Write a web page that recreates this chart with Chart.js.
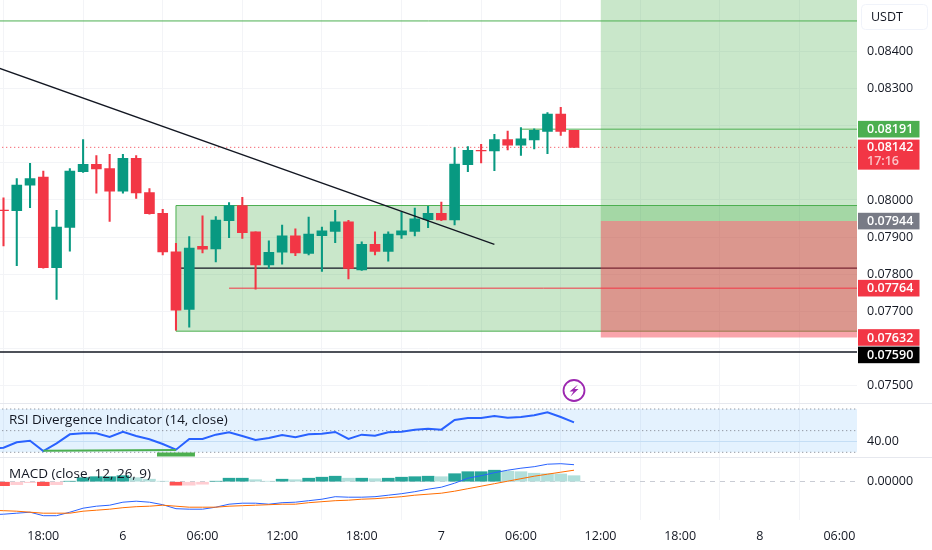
<!DOCTYPE html>
<html>
<head>
<meta charset="utf-8">
<style>
  html, body { margin: 0; padding: 0; background: #ffffff; }
  #chart { display: block; }
</style>
<script src="https://cdn.jsdelivr.net/npm/chart.js@4/dist/chart.umd.js"></script>
</head>
<body>
<canvas id="chart" width="932" height="550"></canvas>
<script>
// Hourly candles, first one is 15:00 on the 5th
const opens = [0.07973,0.07971,0.08040,0.08062,0.07817,0.07926,0.08076,0.08096,0.08085,0.08024,0.08112,0.08020,0.07964,0.07860,0.07705,0.07875,0.07868,0.07944,0.07985,0.07914,0.07825,0.07859,0.07903,0.07856,0.07904,0.07915,0.07941,0.07811,0.07880,0.07861,0.07906,0.07915,0.07947,0.07964,0.07946,0.08095,0.08134,0.08132,0.08163,0.08148,0.08162,0.08185,0.08232,0.08188];
const highs = [0.08006,0.08058,0.08099,0.08078,0.07972,0.08085,0.08163,0.08120,0.08123,0.08123,0.08120,0.08031,0.07975,0.07883,0.07901,0.07957,0.07955,0.07993,0.08007,0.07914,0.07890,0.07932,0.07922,0.07954,0.07927,0.07972,0.07945,0.07887,0.07914,0.07914,0.07968,0.07978,0.07983,0.07994,0.08141,0.08144,0.08150,0.08177,0.08186,0.08195,0.08192,0.08236,0.08250,0.08188];
const lows = [0.07876,0.07823,0.07979,0.07816,0.07732,0.07862,0.08074,0.08018,0.07942,0.08018,0.08004,0.07962,0.07852,0.07649,0.07657,0.07857,0.07833,0.07898,0.07896,0.07759,0.07815,0.07827,0.07850,0.07852,0.07807,0.07885,0.07787,0.07810,0.07852,0.07835,0.07896,0.07903,0.07925,0.07944,0.07933,0.08076,0.08100,0.08079,0.08135,0.08120,0.08138,0.08125,0.08174,0.08142];
const closes = [0.07971,0.08040,0.08058,0.07817,0.07927,0.08078,0.08096,0.08084,0.08024,0.08112,0.08019,0.07963,0.07860,0.07703,0.07870,0.07867,0.07946,0.07985,0.07912,0.07825,0.07859,0.07903,0.07857,0.07908,0.07917,0.07941,0.07815,0.07880,0.07861,0.07908,0.07917,0.07949,0.07964,0.07946,0.08097,0.08134,0.08132,0.08163,0.08148,0.08165,0.08188,0.08232,0.08185,0.08142];

// Indicators start one hour earlier, off the left edge
const rsiValues = [33.7,34.2,39.2,40.7,31.2,38.3,46.6,47.6,47.6,44.1,49.0,45.1,42.0,37.7,32.4,42.3,42.3,46.3,48.5,45.1,41.4,43.2,46.0,43.9,46.6,47.2,48.8,42.3,46.3,45.3,48.5,49.0,50.9,51.8,50.9,59.8,61.7,61.7,63.5,62.0,62.6,64.2,67.0,62.6,57.7];
const macdLine = [-0.00066,-0.00065,-0.00063,-0.00061,-0.00068,-0.00068,-0.00061,-0.00053,-0.00049,-0.00047,-0.00041,-0.00039,-0.00041,-0.00046,-0.00054,-0.00055,-0.00055,-0.00051,-0.00045,-0.00043,-0.00043,-0.00045,-0.00042,-0.00041,-0.00038,-0.00035,-0.00030,-0.00031,-0.00031,-0.00030,-0.00027,-0.00024,-0.00020,-0.00015,-0.00011,-0.00003,0.00007,0.00012,0.00018,0.00023,0.00027,0.00030,0.00035,0.00036,0.00034];
const signalLine = [-0.00057,-0.00058,-0.00059,-0.00061,-0.00063,-0.00063,-0.00063,-0.00059,-0.00057,-0.00055,-0.00052,-0.00050,-0.00049,-0.00047,-0.00049,-0.00051,-0.00051,-0.00051,-0.00049,-0.00048,-0.00047,-0.00046,-0.00045,-0.00045,-0.00042,-0.00040,-0.00038,-0.00037,-0.00035,-0.00034,-0.00032,-0.00030,-0.00027,-0.00025,-0.00023,-0.00019,-0.00014,-0.00009,-0.00004,0.00001,0.00006,0.00011,0.00015,0.00019,0.00023];
const macdHist = [-0.00008,-0.00006,-0.00002,-0.00008,-0.00006,0.00001,0.00008,0.00010,0.00010,0.00012,0.00008,0.00005,0.00001,-0.00007,-0.00007,-0.00005,0.00001,0.00007,0.00007,0.00004,0.00001,0.00005,0.00004,0.00007,0.00009,0.00011,0.00007,0.00007,0.00006,0.00007,0.00009,0.00010,0.00011,0.00010,0.00016,0.00020,0.00020,0.00023,0.00021,0.00020,0.00017,0.00016,0.000155,0.00012];

// Axis ticks
const xTickHours = [3,9,15,21,27,33,39,45,51,57,63];
const xTickLabels = ['18:00','6','06:00','12:00','18:00','7','06:00','12:00','18:00','8','06:00'];
const priceTicks = [0.075,0.076,0.077,0.078,0.079,0.080,0.081,0.082,0.083,0.084];
const hiddenPriceTicks = [0.076,0.081,0.082];

// Drawing levels
const topLevel = 0.08483;
const targetLevel = 0.08191;
const lastPrice = 0.08142;
const entryLevel = 0.07943;
const boxTop = 0.07985;
const boxBottom = 0.07646;
const boxMidLevel = 0.07816;
const redLevel = 0.07762;
const stopLevel = 0.07629;
const floorLevel = 0.07590;
const trendHours = [-1,37];
const trendPrices = [0.08364,0.07880];

// Price badges on the right axis
const badgePrices = [0.08191,0.07943,0.07762,0.07629,0.07582];
const badgeLabels = ['0.08191','0.07944','0.07764','0.07632','0.07590'];
const badgeColors = ['#4caf50','#787b86','#f23645','#f23645','#000000'];

const UP = '#089981';
const DOWN = '#f23645';
const FONT = '"Open Sans", sans-serif';
const X_MIN = -0.264;
const X_MAX = 64.33;

function levelLine(x0, x1, price, color, width, dash) {
    return {
        type: 'line',
        yAxisID: 'price',
        data: [{ x: x0, y: price }, { x: x1, y: price }],
        borderColor: color,
        borderWidth: width,
        borderDash: dash || [],
        pointRadius: 0,
        fill: false
    };
}

function zone(x0, x1, top, bottom, color, axis) {
    return {
        type: 'line',
        yAxisID: axis || 'price',
        data: [{ x: x0, y: top }, { x: x1, y: top }],
        backgroundColor: color,
        borderWidth: 0,
        pointRadius: 0,
        fill: { value: bottom }
    };
}

function seriesLine(values, axis, color, width) {
    return {
        type: 'line',
        yAxisID: axis,
        data: values.map(function (v, i) { return { x: i - 1, y: v }; }),
        borderColor: color,
        borderWidth: width,
        pointRadius: 0,
        tension: 0,
        fill: false
    };
}

function rsiGuide(value) {
    return {
        type: 'line',
        yAxisID: 'rsi',
        data: [{ x: -1, y: value }, { x: 66, y: value }],
        borderColor: '#787b86',
        borderWidth: 1,
        borderDash: [1, 3],
        pointRadius: 0,
        fill: false
    };
}

function histColor(v, i) {
    const prev = i > 0 ? macdHist[i - 1] : 0;
    if (v >= 0) return v >= prev ? '#26a69a' : '#b2dfdb';
    return v < prev ? '#ff5252' : '#ffcdd2';
}

const candleColors = closes.map(function (c, i) { return c >= opens[i] ? UP : DOWN; });

// Listed bottom layer first, reversed below because Chart.js paints the first dataset last
const paintOrder = [
    zone(13, 66, boxTop, boxBottom, 'rgba(76, 175, 80, 0.3)'),
    levelLine(13, 66, boxTop, '#4caf50', 1),
    levelLine(13, 66, boxBottom, '#4caf50', 1),
    {
        type: 'line',
        yAxisID: 'price',
        data: [{ x: 13, y: boxBottom }, { x: 13, y: boxTop }],
        borderColor: '#4caf50',
        borderWidth: 1,
        pointRadius: 0,
        fill: false
    },
    levelLine(13, 66, boxMidLevel, '#131722', 1.3),
    levelLine(17, 66, redLevel, '#f23645', 1),
    levelLine(39, 66, targetLevel, '#4caf50', 1),
    levelLine(-1, 66, topLevel, '#4caf50', 1),
    levelLine(-1, 66, floorLevel, '#131722', 1.6),
    levelLine(-1, 66, lastPrice, '#f23645', 1, [1, 3]),
    {
        type: 'bar',
        yAxisID: 'price',
        grouped: false,
        barThickness: 1.4,
        data: opens.map(function (o, i) { return { x: i, y: [lows[i], highs[i]] }; }),
        backgroundColor: candleColors
    },
    {
        type: 'bar',
        yAxisID: 'price',
        grouped: false,
        barThickness: 10,
        data: opens.map(function (o, i) { return { x: i, y: [o, closes[i]] }; }),
        backgroundColor: candleColors
    },
    {
        type: 'line',
        yAxisID: 'price',
        data: [{ x: trendHours[0], y: trendPrices[0] }, { x: trendHours[1], y: trendPrices[1] }],
        borderColor: '#131722',
        borderWidth: 1.3,
        pointRadius: 0,
        fill: false
    },
    zone(45, 66, 0.0856, entryLevel, 'rgba(76, 175, 80, 0.3)'),
    zone(45, 66, entryLevel, stopLevel, 'rgba(242, 54, 69, 0.45)'),

    // RSI pane
    zone(-1, 66, 70, 30, 'rgba(33, 150, 243, 0.12)', 'rsi'),
    rsiGuide(70),
    rsiGuide(50),
    rsiGuide(30),
    seriesLine(rsiValues, 'rsi', '#2962ff', 2),
    {
        type: 'line',
        yAxisID: 'rsi',
        data: [{ x: 3, y: 31.5 }, { x: 13, y: 32.2 }],
        borderColor: '#4caf50',
        borderWidth: 2,
        pointRadius: 0,
        fill: false
    },
    {
        type: 'line',
        yAxisID: 'rsi',
        data: [{ x: 11.57, y: 28 }, { x: 14.43, y: 28 }],
        borderColor: '#4caf50',
        borderWidth: 4,
        pointRadius: 0,
        fill: false
    },

    // MACD pane
    {
        type: 'bar',
        yAxisID: 'macd',
        grouped: false,
        barThickness: 12,
        data: macdHist.map(function (v, i) { return { x: i, y: v }; }),
        backgroundColor: macdHist.map(histColor)
    },
    seriesLine(macdLine, 'macd', '#2962ff', 1),
    seriesLine(signalLine, 'macd', '#ff6d00', 1)
];

const paneDecor = {
    id: 'paneDecor',
    afterDraw: function (chart) {
        const ctx = chart.ctx;
        const price = chart.scales.price;
        const rsi = chart.scales.rsi;
        const macd = chart.scales.macd;
        const right = chart.chartArea.right;

        ctx.save();

        // Pane separators
        ctx.strokeStyle = '#e6e8ee';
        ctx.lineWidth = 1;
        [price.bottom, rsi.bottom].forEach(function (y) {
            ctx.beginPath();
            ctx.moveTo(0, Math.round(y) + 0.5);
            ctx.lineTo(chart.width, Math.round(y) + 0.5);
            ctx.stroke();
        });

        // Indicator titles
        ctx.fillStyle = '#131722';
        ctx.font = '13.5px ' + FONT;
        ctx.textAlign = 'left';
        ctx.textBaseline = 'middle';
        ctx.fillText('RSI Divergence Indicator (14, close)', 9, rsi.top + 17);
        ctx.fillText('MACD (close, 12, 26, 9)', 9, macd.top + 17.5);

        // Alert icon above the last candle
        const ix = chart.scales.x.getPixelForValue(43);
        const iy = 390.5;
        ctx.strokeStyle = '#9c27b0';
        ctx.lineWidth = 1.8;
        ctx.beginPath();
        ctx.arc(ix, iy, 10.5, 0, Math.PI * 2);
        ctx.stroke();
        ctx.fillStyle = '#9c27b0';
        ctx.beginPath();
        ctx.moveTo(ix + 4, iy - 6);
        ctx.lineTo(ix - 4.5, iy + 1);
        ctx.lineTo(ix - 0.5, iy + 1);
        ctx.lineTo(ix - 3.5, iy + 6);
        ctx.lineTo(ix + 4.5, iy - 1.5);
        ctx.lineTo(ix + 0.5, iy - 1.5);
        ctx.closePath();
        ctx.fill();

        // Currency button
        ctx.strokeStyle = '#f0f3fa';
        ctx.lineWidth = 1;
        ctx.beginPath();
        ctx.roundRect(861.5, 4.5, 66, 25, 4);
        ctx.stroke();
        ctx.fillStyle = '#131722';
        ctx.font = '12.5px ' + FONT;
        ctx.fillText('USDT', 871, 17);

        // Price badges
        const badgeX = right + 1;
        const badgeW = 61.5;
        ctx.font = '600 12.5px ' + FONT;
        badgePrices.forEach(function (p, i) {
            const y = price.getPixelForValue(p);
            ctx.fillStyle = badgeColors[i];
            ctx.fillRect(badgeX, y - 8.3, badgeW, 16.6);
            ctx.fillStyle = '#ffffff';
            ctx.fillText(badgeLabels[i], right + 10, y + 0.5);
        });

        // Last price badge carries the countdown too
        const lastY = price.getPixelForValue(lastPrice);
        ctx.fillStyle = DOWN;
        ctx.fillRect(badgeX, lastY - 7.7, badgeW, 30);
        ctx.fillStyle = '#ffffff';
        ctx.fillText('0.08142', right + 10, lastY + 0.5);
        ctx.fillStyle = 'rgba(255, 255, 255, 0.7)';
        ctx.fillText('17:16', right + 10, lastY + 14.5);

        ctx.restore();
    }
};

// Panes fill the plot edge to edge, no room kept for half a tick label
function clearPadding(scale) {
    scale.paddingTop = 0;
    scale.paddingBottom = 0;
    scale.paddingLeft = 0;
    scale.paddingRight = 0;
}

function fixedWidth(scale) {
    scale.width = 75;
    clearPadding(scale);
}

const tickFont = { family: FONT, size: 12.5 };

new Chart(document.getElementById('chart'), {
    data: { datasets: paintOrder.slice().reverse() },
    plugins: [paneDecor],
    options: {
        responsive: false,
        animation: false,
        events: [],
        devicePixelRatio: 1,
        layout: { padding: 0, autoPadding: false },
        plugins: { legend: { display: false }, tooltip: { enabled: false } },
        elements: { bar: { borderWidth: 0, borderSkipped: false } },
        scales: {
            x: {
                type: 'linear',
                position: 'bottom',
                min: X_MIN,
                max: X_MAX,
                offset: false,
                grid: { color: '#f3f4f7', drawTicks: false },
                border: { display: false },
                afterBuildTicks: function (scale) {
                    scale.ticks = xTickHours.map(function (h) { return { value: h }; });
                },
                afterFit: function (scale) {
                    scale.height = 30;
                    clearPadding(scale);
                },
                ticks: {
                    autoSkip: false,
                    maxRotation: 0,
                    padding: 9,
                    color: '#131722',
                    font: tickFont,
                    callback: function (value) { return xTickLabels[xTickHours.indexOf(value)]; }
                }
            },
            price: {
                type: 'linear',
                position: 'right',
                stack: 'panes',
                stackWeight: 403.3,
                min: 0.074514,
                max: 0.085395,
                grid: { color: '#f3f4f7', drawTicks: false },
                border: { display: false },
                afterBuildTicks: function (scale) {
                    scale.ticks = priceTicks.map(function (v) { return { value: v }; });
                },
                afterFit: fixedWidth,
                ticks: {
                    padding: 10,
                    color: '#131722',
                    font: tickFont,
                    callback: function (value) {
                        return hiddenPriceTicks.indexOf(value) >= 0 ? '' : value.toFixed(5);
                    }
                }
            },
            rsi: {
                type: 'linear',
                position: 'right',
                stack: 'panes',
                stackWeight: 53.7,
                min: 25.66,
                max: 75.27,
                grid: { color: '#dbe9f5', drawTicks: false },
                border: { display: false },
                afterBuildTicks: function (scale) { scale.ticks = [{ value: 40 }]; },
                afterFit: fixedWidth,
                ticks: {
                    padding: 10,
                    color: '#131722',
                    font: tickFont,
                    callback: function (value) { return value.toFixed(2); }
                }
            },
            macd: {
                type: 'linear',
                position: 'right',
                stack: 'panes',
                stackWeight: 63,
                min: -0.000766,
                max: 0.000494,
                grid: { color: '#c9ccd4', drawTicks: false },
                border: { display: false, dash: [5, 5] },
                afterBuildTicks: function (scale) { scale.ticks = [{ value: 0 }]; },
                afterFit: fixedWidth,
                ticks: {
                    padding: 10,
                    color: '#131722',
                    font: tickFont,
                    callback: function (value) { return value.toFixed(5); }
                }
            }
        }
    }
});
</script>
</body>
</html>
